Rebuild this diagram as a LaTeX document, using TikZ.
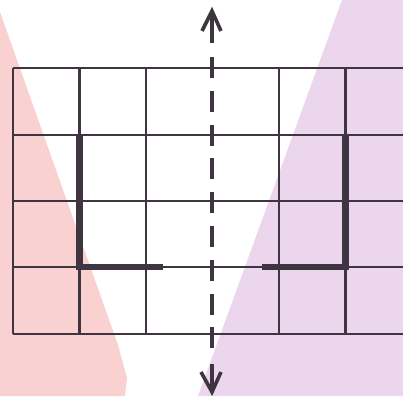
\documentclass[tikz,border=0pt]{standalone}
\begin{document}
\begin{tikzpicture}[x=1pt,y=-1pt,
  gridline/.style={line width=2.6pt,draw=linec},
  thickline/.style={line width=6.5pt,draw=linec},
  axis/.style={line width=3.6pt,draw=linec},
  axisdash/.style={axis,dash pattern=on 21pt off 12.8pt}]
\definecolor{linec}{HTML}{3E3540}
\definecolor{pinkc}{HTML}{F9D1D1}
\definecolor{purplec}{HTML}{ECD6EE}
\useasboundingbox (0,0) rectangle (403,396);
\fill[white] (0,0) rectangle (403,396);
% coloured wedges
\fill[pinkc] (0,12) -- (118,345) -- (127,378) -- (125,396) -- (0,396) -- cycle;
\fill[purplec] (342,0) -- (403,0) -- (403,396) -- (198,396) -- cycle;
% grid
\foreach \y in {68,135,201,267,334} \draw[gridline] (13,\y) -- (403,\y);
\foreach \x in {13,79.5,146,279,345.5} \draw[gridline] (\x,68) -- (\x,334);
% thick L shapes
\draw[thickline] (79.5,135) -- (79.5,267) -- (163,267);
\draw[thickline] (345.5,135) -- (345.5,267) -- (262,267);
% dashed axis with arrows
\coordinate (top) at (212,11);
\coordinate (topend) at (212,43);
\coordinate (dstart) at (212,57);
\coordinate (dend) at (212,352);
\coordinate (botstart) at (212,364);
\coordinate (bot) at (212,392);
\draw[axis] (topend) -- (top);
\draw[axis,line join=miter] ([xshift=-10pt,yshift=-20pt]top) -- (top) -- ([xshift=9pt,yshift=-20pt]top);
\draw[axisdash] (dstart) -- (dend);
\draw[axis] (botstart) -- (bot);
\draw[axis,line join=miter] ([xshift=-11pt,yshift=20pt]bot) -- (bot) -- ([xshift=9pt,yshift=20pt]bot);
\end{tikzpicture}
\end{document}
